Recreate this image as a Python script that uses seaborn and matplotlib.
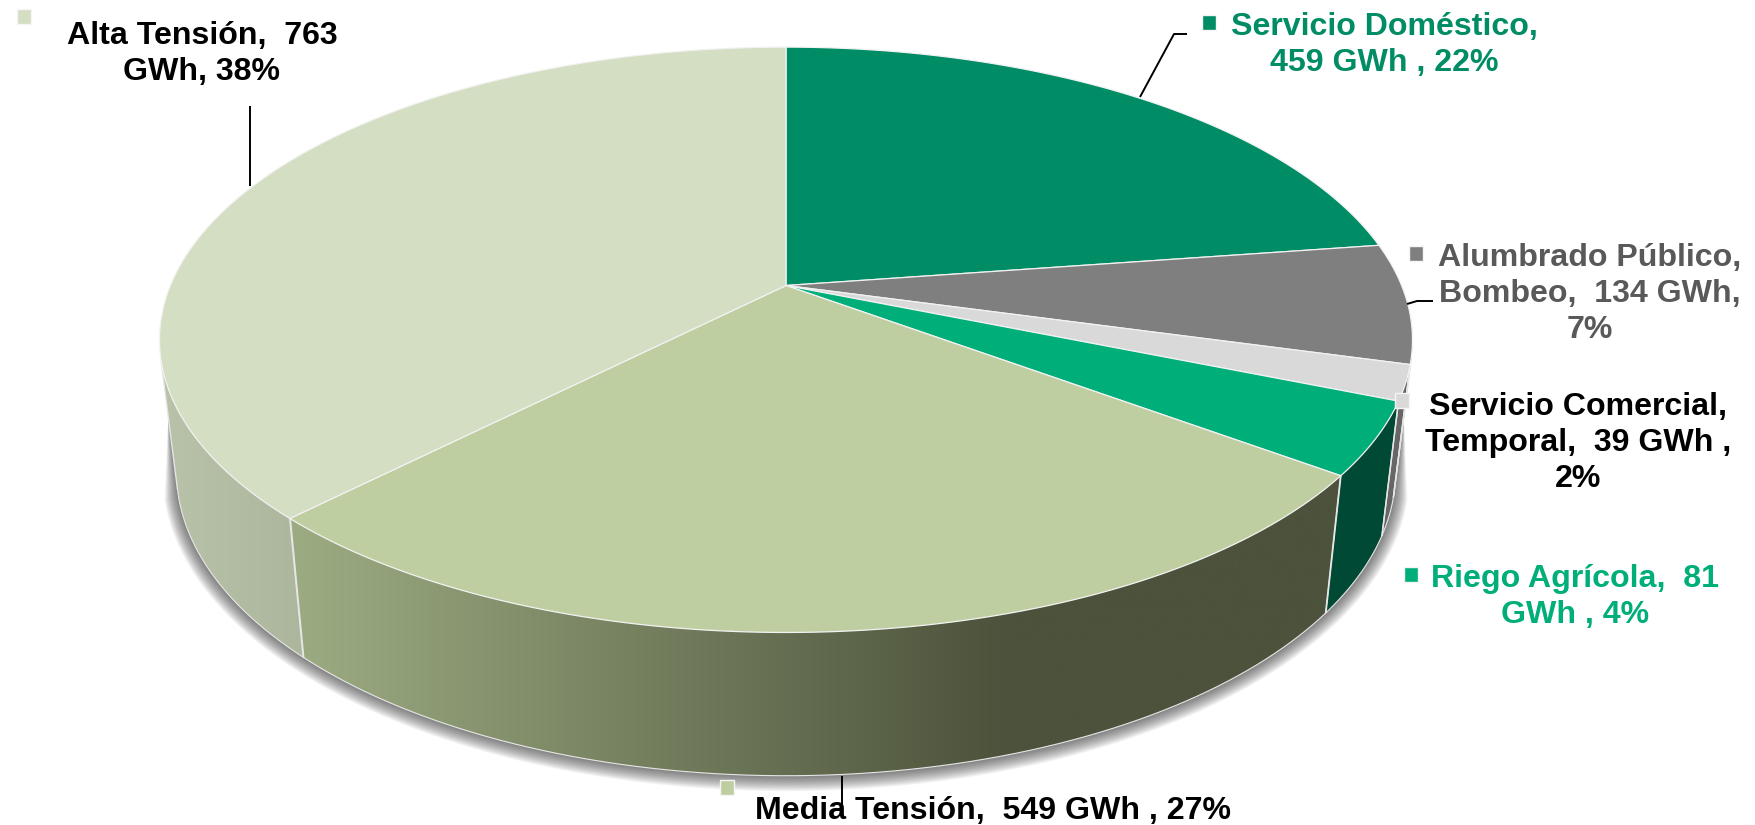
import numpy as np
import matplotlib
matplotlib.use("Agg")
import matplotlib.pyplot as plt
from matplotlib.patches import Polygon, Rectangle
from matplotlib.colors import LinearSegmentedColormap
import seaborn as sns

# datos del grafico (GWh), sentido horario desde las 12
categorias = ["Servicio Doméstico", "Alumbrado Público, Bombeo", "Servicio Comercial, Temporal",
              "Riego Agrícola", "Media Tensión", "Alta Tensión"]
valores = [459, 134, 39, 81, 549, 763]
etiquetas = ["Servicio Doméstico,\n459 GWh , 22%",
             "Alumbrado Público,\nBombeo,  134 GWh,\n7%",
             "Servicio Comercial,\nTemporal,  39 GWh ,\n2%",
             "Riego Agrícola,  81\nGWh , 4%",
             "Media Tensión,  549 GWh , 27%",
             "Alta Tensión,  763\nGWh, 38%"]

sns.set_theme(style="white")
plt.rcParams["font.family"] = ["Liberation Sans", "DejaVu Sans"]

colores = sns.color_palette(["#008C65", "#7F7F7F", "#D9D9D9", "#00AE7A", "#BFCEA0", "#D4DEC2"])
colores_texto = ["#008C65", "#595959", "black", "#00AE7A", "black", "black"]

# posicion de etiquetas y cuadritos (pixeles de la figura)
pos_texto = [(1384, 45), (1590, 294), (1578, 443), (1575, 597), (993, 811), (202, 54)]
pos_cuadro = [(1202, 15), (1409, 246), (1395, 393), (1404, 567), (720, 780), (17, 9)]
lideres = [[(1140, 97), (1174, 34), (1187, 34)],
           [(1407, 304), (1417, 301), (1433, 301)],
           [(842, 776), (842, 811)],
           [(250, 186), (250, 106)]]

# proyeccion en perspectiva del circulo
CX, CY = 786, 285.5
A, B, K = 615.6, 282.6, 0.1855


def arriba(ang):
    sx, sy = np.sin(ang), np.cos(ang)
    d = 1 + K * sy
    return CX + A * sx / d, CY - B * sy / d


def abajo(x, y):
    return CX + 0.973 * (x - CX), 657 + 1.039 * (y - 518.2)


def relleno_gradiente(ax, puntos, xs, cols, z):
    # gradiente horizontal recortado por el poligono
    poly = Polygon(puntos, closed=True, fc="none", ec="none", zorder=z)
    ax.add_patch(poly)
    norm = [(x - xs[0]) / (xs[-1] - xs[0]) for x in xs]
    cmap = LinearSegmentedColormap.from_list("g", list(zip(norm, cols)))
    im = ax.imshow(np.linspace(0, 1, 512)[None, :], cmap=cmap, aspect="auto",
                   extent=(xs[0], xs[-1], 825, 0), zorder=z, vmin=0, vmax=1)
    im.set_clip_path(poly)


fig, ax = plt.subplots(figsize=(17.55, 8.25), dpi=100)
fig.subplots_adjust(0, 0, 1, 1)

total = sum(valores)
cortes = np.cumsum([0] + valores) / total * 2 * np.pi

# parte visible de la pared: donde la arista queda hacia la camara
malla = np.linspace(0, 2 * np.pi, 4001)
mx, my = arriba(malla)
mbx, mby = abajo(mx, my)
cruz = np.gradient(mx) * (mby - my) - np.gradient(my) * (mbx - mx)
frente = cruz < 0

# sombra difusa debajo del pastel, se afina hacia arriba
fx, fy = mx[frente], my[frente]
fbx, fby = mbx[frente], mby[frente]
sx = np.r_[fx[0] + 0.45 * (fbx[0] - fx[0]), fbx, fx[-1] + 0.45 * (fbx[-1] - fx[-1])]
sy = np.r_[fy[0] + 0.45 * (fby[0] - fy[0]), fby, fy[-1] + 0.45 * (fby[-1] - fy[-1])]
afina = np.clip((sy - sy.min()) / 80, 0, 1)
for d in np.linspace(14, 1, 20):
    ax.fill(CX + (sx - CX) * (1 + afina * d / 610), 400 + (sy - 400) * (1 + afina * d / 340),
            color="#303030", alpha=0.04, lw=0, zorder=1)

# paredes laterales
gradientes = {
    0: ([0, 1755], ["#006048", "#006048"]),
    1: ([0, 1755], ["#666666", "#666666"]),
    2: ([0, 1755], ["#666666", "#666666"]),
    3: ([0, 1755], ["#004A35", "#004A35"]),
    4: ([290, 1010, 1340], ["#9CAC82", "#4C523B", "#4C523B"]),
    5: ([150, 305], ["#B9C4AA", "#ABB69C"]),
}
for i in range(len(valores)):
    ang = malla[frente & (malla >= cortes[i]) & (malla <= cortes[i + 1])]
    if len(ang) < 2:
        continue
    x, y = arriba(ang)
    xb, yb = abajo(x, y)
    puntos = np.r_[np.c_[x, y], np.c_[xb, yb][::-1]]
    relleno_gradiente(ax, puntos, *gradientes[i], z=2 + i * 0.01)
    ax.plot(xb, yb, color="#E6E6E6", lw=0.8, zorder=2.5)
    for j in [0, -1]:
        ax.plot([x[j], xb[j]], [y[j], yb[j]], color="#E6E6E6", lw=1, zorder=2.5)

# cara superior
for i, (val, col) in enumerate(zip(valores, colores)):
    ang = np.linspace(cortes[i], cortes[i + 1], 200)
    x, y = arriba(ang)
    ax.add_patch(Polygon(np.r_[[[CX, CY]], np.c_[x, y]], closed=True, fc=col,
                         ec="#F2F2F2", lw=0.9, joinstyle="round", zorder=3))

# lineas guia
for lid in lideres:
    lx, ly = zip(*lid)
    ax.plot(lx, ly, color="black", lw=1.4, zorder=4, solid_capstyle="butt")

# etiquetas y cuadritos
for i, txt in enumerate(etiquetas):
    ax.text(*pos_texto[i], txt, ha="center", va="center", ma="center", fontsize=23.1,
            fontweight="bold", color=colores_texto[i], linespacing=1.28, zorder=6)
    ax.add_patch(Rectangle(pos_cuadro[i], 14.5, 14.5, fc=colores[i], ec="#F5F5F5", lw=1, zorder=5))

ax.set_xlim(0, 1755)
ax.set_ylim(825, 0)
ax.axis("off")
fig.savefig("out.png", dpi=100, facecolor="white")
